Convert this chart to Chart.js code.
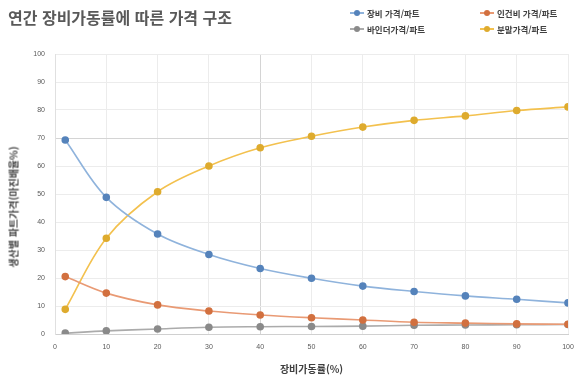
<!DOCTYPE html>
<html lang="ko">
<head>
<meta charset="utf-8">
<script src="https://cdn.jsdelivr.net/npm/chart.js@4"></script>
<style>
  body { margin: 0; background: #fff; font-family: "Noto Sans CJK KR", "Noto Sans", sans-serif; }
  #wrap { position: relative; width: 575px; height: 379px; }
  #title { position: absolute; left: 8px; top: 5px; font-size: 16px; font-weight: bold; color: #595959; white-space: nowrap; }
  #legend { position: absolute; left: 350px; top: 6px; width: 225px; display: grid; grid-template-columns: 130px 95px; row-gap: 2px; font-size: 8.5px; color: #404040; font-weight: bold; }
  #legend div { display: flex; align-items: center; height: 14px; white-space: nowrap; }
  #legend i { position: relative; display: inline-block; width: 14px; height: 2px; margin-right: 3px; }
  #legend i b { position: absolute; left: 4px; top: -2px; width: 6px; height: 6px; border-radius: 50%; }
  #ytitle { position: absolute; left: 13px; top: 207px; transform: translate(-50%, -50%) rotate(-90deg); font-size: 10px; font-weight: bold; color: #404040; white-space: nowrap; }
</style>
</head>
<body>
<div id="wrap">
  <canvas id="cost-chart" width="575" height="379"></canvas>
  <div id="title">연간 장비가동률에 따른 가격 구조</div>
  <div id="legend"></div>
  <div id="ytitle">생산별 파트가격(마진배율%)</div>
</div>
<script>
// 장비가동률 (%)
const utilization = [2, 10, 20, 30, 40, 50, 60, 70, 80, 90, 100];

const seriesNames = ['장비 가격/파트', '인건비 가격/파트', '바인더가격/파트', '분말가격/파트'];

const machineCost = [69.3, 48.8, 35.7, 28.4, 23.4, 19.9, 17.1, 15.2, 13.6, 12.4, 11.1];
const laborCost   = [20.5, 14.6, 10.4, 8.2, 6.8, 5.8, 5.0, 4.2, 3.9, 3.6, 3.5];
const binderCost  = [0.3, 1.1, 1.8, 2.4, 2.6, 2.7, 2.8, 3.1, 3.2, 3.3, 3.4];
const powderCost  = [8.8, 34.2, 50.8, 60.0, 66.5, 70.6, 73.9, 76.3, 77.9, 79.8, 81.1];

const lineColors  = ['#8fb3dc', '#e99a74', '#ababab', '#f3c14e'];
const pointColors = ['#5583bb', '#d2703f', '#8a8a8a', '#deab2e'];

const xTicks = [0, 10, 20, 30, 40, 50, 60, 70, 80, 90, 100];
const yTicks = [0, 10, 20, 30, 40, 50, 60, 70, 80, 90, 100];

document.addEventListener('DOMContentLoaded', function() {
    const values = [machineCost, laborCost, binderCost, powderCost];

    const datasets = values.map((vals, i) => ({
        label: seriesNames[i],
        data: vals.map((v, j) => ({ x: utilization[j], y: v })),
        borderColor: lineColors[i],
        backgroundColor: pointColors[i],
        pointBackgroundColor: pointColors[i],
        pointBorderColor: pointColors[i],
        pointRadius: 3,
        borderWidth: 1.6,
        tension: 0.35
    }));

    // HTML legend
    const legend = document.getElementById('legend');
    seriesNames.forEach((name, i) => {
        const item = document.createElement('div');
        item.innerHTML = '<i style="background:' + lineColors[i] + '"><b style="background:' + pointColors[i] + '"></b></i>' + name;
        legend.appendChild(item);
    });

    const ctx = document.getElementById('cost-chart');
    new Chart(ctx, {
        type: 'line',
        data: { datasets: datasets },
        options: {
            responsive: false,
            animation: false,
            layout: { padding: { left: 0, right: 7, top: 54, bottom: 0 } },
            scales: {
                x: {
                    type: 'linear',
                    min: 0,
                    max: 100,
                    afterBuildTicks: function(scale) { scale.ticks = xTicks.map(v => ({ value: v })); },
                    afterFit: function(scale) {
                        scale.height = 45;
                        scale.paddingLeft = 0;
                        scale.paddingRight = 0;
                    },
                    grid: {
                        color: ctx => ctx.tick && ctx.tick.value === 40 ? '#d4d4d4' : '#ececec',
                        drawTicks: false
                    },
                    border: { color: '#d0d0d0' },
                    ticks: { color: '#595959', font: { size: 7 }, padding: 9, maxRotation: 0 },
                    title: {
                        display: true,
                        text: '장비가동률(%)',
                        color: '#404040',
                        font: { size: 10, weight: 'bold', family: '"Noto Sans CJK KR"' },
                        padding: { top: 8 }
                    }
                },
                y: {
                    min: 0,
                    max: 100,
                    afterBuildTicks: function(scale) { scale.ticks = yTicks.map(v => ({ value: v })); },
                    afterFit: function(scale) {
                        scale.width = 55;
                        scale.paddingTop = 0;
                        scale.paddingBottom = 0;
                    },
                    grid: {
                        color: ctx => ctx.tick && ctx.tick.value === 70 ? '#d4d4d4' : '#ececec',
                        drawTicks: false
                    },
                    border: { color: '#e0e0e0' },
                    ticks: { color: '#595959', font: { size: 7 }, padding: 10 }
                }
            },
            plugins: {
                legend: { display: false },
                title: { display: false },
                tooltip: { enabled: false }
            }
        }
    });
});
</script>
</body>
</html>
